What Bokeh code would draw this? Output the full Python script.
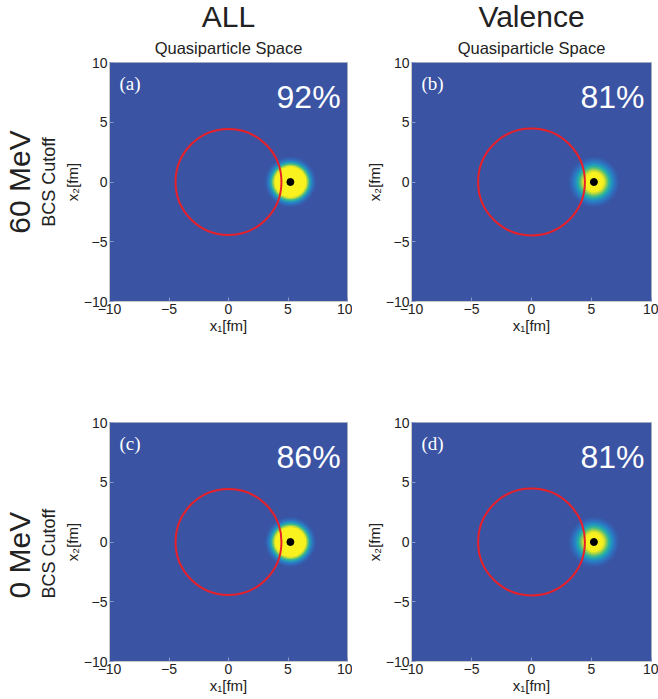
import numpy as np
from bokeh.plotting import figure
from bokeh.models import LinearColorMapper, Title, Label, FixedTicker
from bokeh.layouts import column, row
from bokeh.embed import file_html
from bokeh.resources import INLINE

# ---------------- data ----------------
panel_tags = ["(a)", "(b)", "(c)", "(d)"]
percentages = ["92%", "81%", "86%", "81%"]
column_titles = ["ALL", "Valence"]
column_subtitles = ["Quasiparticle Space", "Quasiparticle Space"]
row_titles = ["60 MeV", "0 MeV"]
row_subtitles = ["BCS Cutoff", "BCS Cutoff"]

blob_x = [5.2, 5.2, 5.2, 5.2]          # fm
blob_y = [0.0, 0.0, 0.0, 0.0]          # fm
blob_sigma = [1.0, 1.18, 1.0, 1.18]    # fm
blob_peak = [1.01, 0.55, 0.97, 0.54]

nucleon_x = [5.2, 5.2, 5.2, 5.2]
nucleon_y = [0.0, 0.0, 0.0, 0.0]
circle_radius = [4.45, 4.45, 4.45, 4.45]

axis_ticks = [-10, -5, 0, 5, 10]
x_label = "x\u2081[fm]"
y_label = "x\u2082[fm]"

# ---------------- colour map ----------------
stops = [(0.0, (58, 83, 163)), (0.25, (45, 118, 196)), (0.45, (30, 160, 188)),
         (0.6, (55, 185, 145)), (0.75, (150, 205, 80)), (0.9, (238, 236, 36)),
         (1.0, (250, 242, 30))]


def build_palette(n=256):
    pos = np.array([s[0] for s in stops])
    cols = np.array([s[1] for s in stops], dtype=float)
    out = []
    for t in np.linspace(0, 1, n):
        r = np.interp(t, pos, cols[:, 0])
        g = np.interp(t, pos, cols[:, 1])
        b = np.interp(t, pos, cols[:, 2])
        out.append("#%02x%02x%02x" % (int(r), int(g), int(b)))
    return out


palette = build_palette()
mapper = LinearColorMapper(palette=palette, low=0.1, high=0.45,
                           low_color=palette[0], high_color=palette[-1])

FONT = "Liberation Sans"
N = 121


def make_panel(i, width, height, bl, br, bt, bb):
    r_idx, c_idx = divmod(i, 2)
    p = figure(width=width, height=height, x_range=(-10, 10), y_range=(-10, 10),
               output_backend="svg", toolbar_location=None,
               min_border_left=bl, min_border_right=br,
               min_border_top=bt, min_border_bottom=bb)
    p.border_fill_color = "white"
    p.background_fill_color = palette[0]
    p.outline_line_color = "#c8c8c8"
    p.grid.visible = False

    # heat map
    centers = -10 + (np.arange(N) + 0.5) * 20.0 / N
    X, Y = np.meshgrid(centers, centers)
    arr = blob_peak[i] * np.exp(-((X - blob_x[i]) ** 2 + (Y - blob_y[i]) ** 2)
                                / (2 * blob_sigma[i] ** 2))
    p.image(image=[arr], x=-10, y=-10, dw=20, dh=20, color_mapper=mapper)

    p.circle(x=[0], y=[0], radius=circle_radius[i], fill_color=None,
             line_color="#e8202a", line_width=2)
    p.scatter(x=[nucleon_x[i]], y=[nucleon_y[i]], size=7, color="black")

    for ax, lab in ((p.xaxis[0], x_label), (p.yaxis[0], y_label)):
        ax.ticker = FixedTicker(ticks=axis_ticks)
        ax.major_label_text_font = FONT
        ax.major_label_text_font_size = "14px"
        ax.major_label_text_color = "#222222"
        ax.major_label_standoff = 2
        ax.major_tick_in = 4
        ax.major_tick_out = 0
        ax.major_tick_line_color = "#8a98c8"
        ax.minor_tick_line_color = None
        ax.axis_line_color = "#c8c8c8"
        ax.axis_label = lab
        ax.axis_label_text_font = FONT
        ax.axis_label_text_font_size = "15px"
        ax.axis_label_text_font_style = "normal"
        ax.axis_label_text_color = "#222222"
        ax.axis_label_standoff = 0

    if r_idx == 0:
        p.title.text = column_titles[c_idx]
        p.title.align = "center"
        p.title.text_font = FONT
        p.title.text_font_size = "30px"
        p.title.text_font_style = "normal"
        p.title.text_color = "#222222"
        p.title.standoff = -5
        p.add_layout(Title(text=column_subtitles[c_idx], align="center",
                           text_font=FONT, text_font_size="16.5px",
                           text_font_style="normal", text_color="#222222",
                           standoff=12), "above")
    if c_idx == 0:
        if r_idx == 0:
            al, off = "center", 0
        else:
            al, off = "left", 63
        p.add_layout(Title(text=row_subtitles[r_idx], align=al,
                           text_font=FONT, text_font_size="18px",
                           text_font_style="normal", text_color="#222222",
                           standoff=3, offset=off), "left")
        p.add_layout(Title(text=row_titles[r_idx], align=al,
                           text_font=FONT, text_font_size="30px",
                           text_font_style="normal", text_color="#222222",
                           standoff=0, offset=off), "left")

    p.add_layout(Label(x=-9.17, y=8.24, text=panel_tags[i], text_baseline="middle",
                       text_font="Liberation Serif", text_font_size="19px",
                       text_color="white"))
    p.add_layout(Label(x=9.42, y=7.08, text=percentages[i], text_align="right",
                       text_baseline="alphabetic", text_font=FONT,
                       text_font_size="32px", text_color="white"))
    return p


pa = make_panel(0, 352, 360, 107, 5, 62, 59)
pb = make_panel(1, 306, 360, 59, 7, 62, 59)
pc = make_panel(2, 352, 339, 107, 5, 62, 38)
pd = make_panel(3, 306, 339, 59, 7, 62, 38)

layout = column(row(pa, pb), row(pc, pd))
open("out.html", "w").write(file_html(layout, INLINE))
